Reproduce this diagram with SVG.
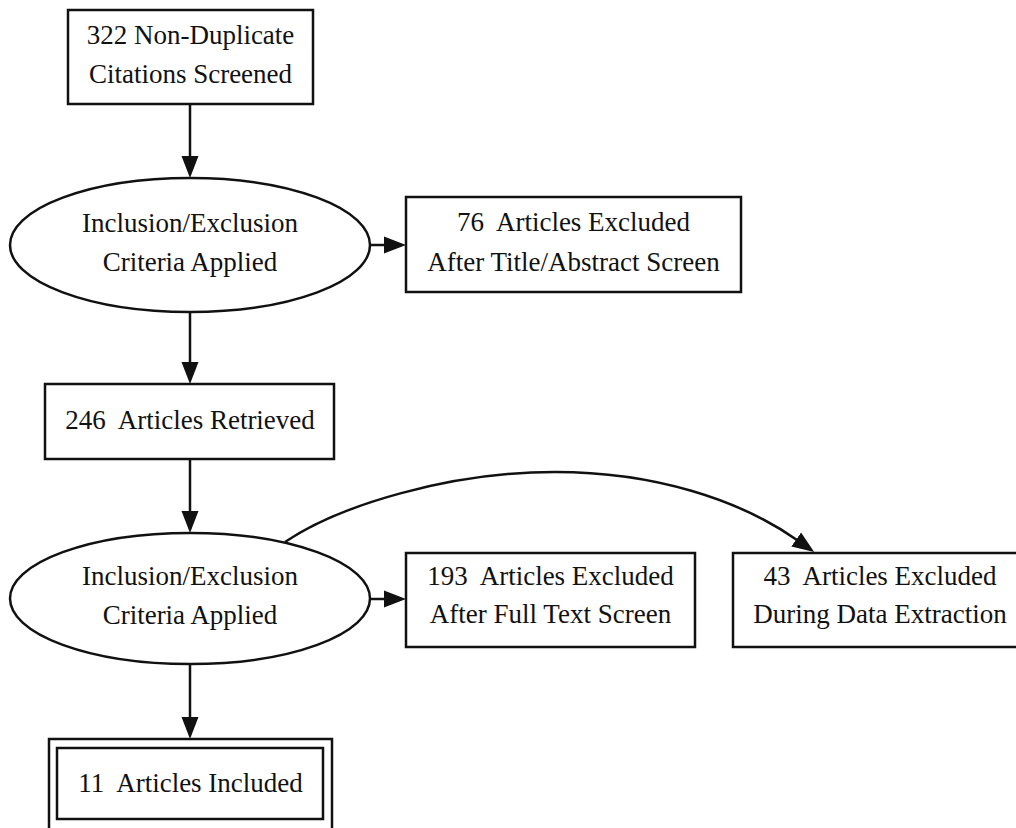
<svg xmlns="http://www.w3.org/2000/svg" width="1016" height="828" viewBox="0 0 1016 828">
<style>
.shape{fill:#fff;stroke:#111;stroke-width:2.5}
.edge{fill:none;stroke:#111;stroke-width:2.5}
text{font-family:"Liberation Serif","Times New Roman",serif;font-size:27px;fill:#111;text-anchor:middle;white-space:pre}
</style>
<defs>
<marker id="arr" markerUnits="userSpaceOnUse" markerWidth="24" markerHeight="20" viewBox="0 -10 24 20" refX="1" refY="0" orient="auto">
<path d="M0,-8.5 L22,0 L0,8.5 Z" fill="#111"/>
</marker>
</defs>
<rect width="1016" height="828" fill="#fff"/>
<g id="connectors">
<path class="edge" d="M190,104 V157" marker-end="url(#arr)"/>
<path class="edge" d="M370,245 H385" marker-end="url(#arr)"/>
<path class="edge" d="M190,312 V363" marker-end="url(#arr)"/>
<path class="edge" d="M190,459 V512" marker-end="url(#arr)"/>
<path class="edge" d="M370,599 H385" marker-end="url(#arr)"/>
<path class="edge" d="M285,542 C340,505 450,472 555,472 C655,472 740,500 797,540" marker-end="url(#arr)"/>
<path class="edge" d="M190,664 V718" marker-end="url(#arr)"/>
</g>
<g id="n322">
<rect class="shape" x="68" y="10" width="245" height="94"/>
<text x="190.5" y="44">322 Non-Duplicate</text>
<text x="190.5" y="83">Citations Screened</text>
</g>
<g id="crit1">
<ellipse class="shape" cx="190" cy="245" rx="180" ry="67"/>
<text x="190" y="232">Inclusion/Exclusion</text>
<text x="190" y="271">Criteria Applied</text>
</g>
<g id="n76">
<rect class="shape" x="406" y="197" width="335" height="95"/>
<text x="573.5" y="231">76  Articles Excluded</text>
<text x="573.5" y="271">After Title/Abstract Screen</text>
</g>
<g id="n246">
<rect class="shape" x="45" y="384" width="289" height="75"/>
<text x="190" y="429">246  Articles Retrieved</text>
</g>
<g id="crit2">
<ellipse class="shape" cx="190" cy="598.5" rx="180" ry="65.5"/>
<text x="190" y="585">Inclusion/Exclusion</text>
<text x="190" y="624">Criteria Applied</text>
</g>
<g id="n193">
<rect class="shape" x="406" y="553" width="289" height="94"/>
<text x="550.5" y="585">193  Articles Excluded</text>
<text x="550.5" y="623">After Full Text Screen</text>
</g>
<g id="n43">
<rect class="shape" x="733" y="553" width="300" height="94"/>
<text x="880" y="585">43  Articles Excluded</text>
<text x="880" y="623">During Data Extraction</text>
</g>
<g id="n11">
<rect class="shape" x="49" y="739" width="283" height="95"/>
<rect class="shape" x="57" y="748" width="266" height="71"/>
<text x="190.5" y="792">11  Articles Included</text>
</g>
</svg>
